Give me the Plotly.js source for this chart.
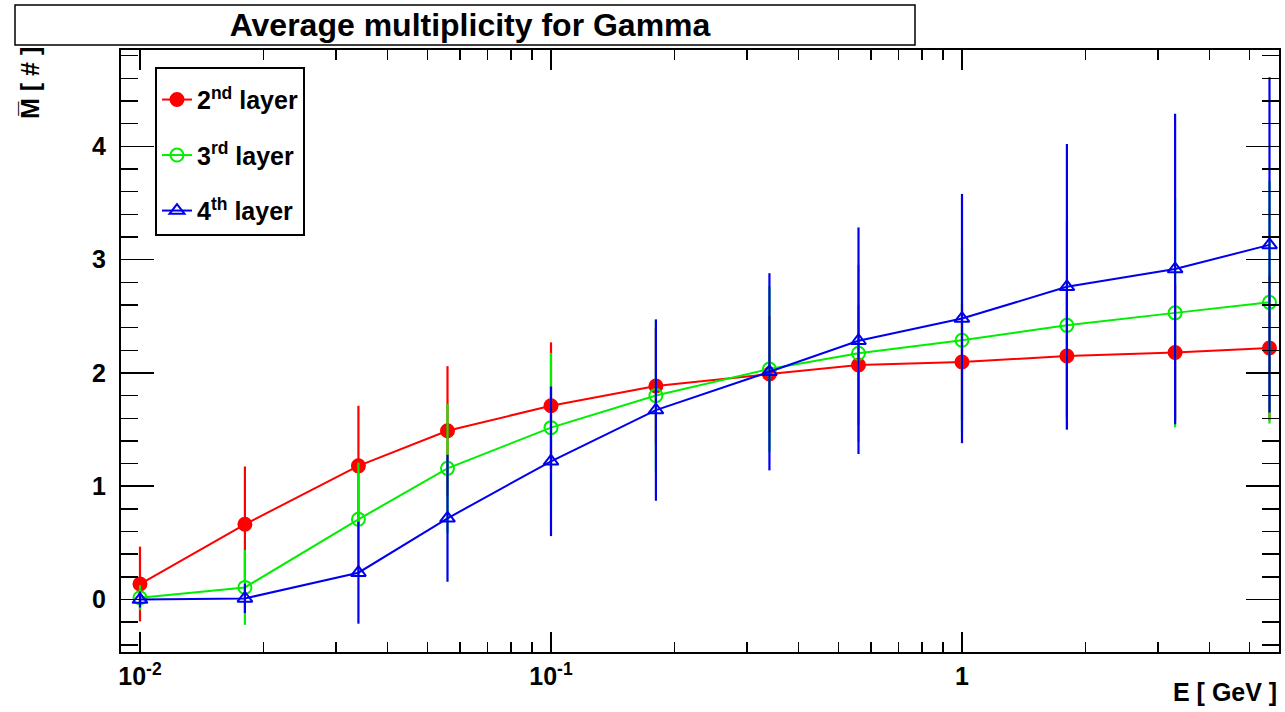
<!DOCTYPE html>
<html>
<head>
<meta charset="utf-8">
<script src="https://cdn.plot.ly/plotly-3.0.1.min.js"></script>
<style>html,body{margin:0;padding:0;background:#fff;}#chart{width:1285px;height:712px;}</style>
</head>
<body>
<div id="chart"></div>
<script>
// Energies [GeV]
const energy = [0.01, 0.018, 0.034, 0.056, 0.1, 0.18, 0.34, 0.56, 1.0, 1.8, 3.3, 5.6];

// 2nd layer
const layer2 = [0.137, 0.664, 1.18, 1.49, 1.71, 1.884, 1.99, 2.07, 2.096, 2.15, 2.18, 2.22];
const layer2Err = [0.33, 0.51, 0.53, 0.57, 0.56, 0.51, 0.51, 0.53, 0.51, 0.55, 0.60, 0.64];

// 3rd layer
const layer3 = [0.016, 0.107, 0.708, 1.158, 1.517, 1.80, 2.034, 2.173, 2.288, 2.42, 2.53, 2.623];
const layer3Err = [0.11, 0.33, 0.50, 0.57, 0.66, 0.67, 0.73, 0.78, 0.81, 0.92, 1.01, 1.07];

// 4th layer
const layer4 = [0.0, 0.01, 0.237, 0.717, 1.22, 1.672, 2.01, 2.284, 2.48, 2.76, 2.917, 3.13];
const layer4Err = [0.07, 0.13, 0.45, 0.56, 0.66, 0.80, 0.87, 1.0, 1.1, 1.26, 1.37, 1.48];

const seriesNames = ["2<sup>nd</sup> layer", "3<sup>rd</sup> layer", "4<sup>th</sup> layer"];
const xTickVals = [0.01, 0.1, 1];
const xTickText = ["10<sup>-2</sup>", "10<sup>-1</sup>", "1"];
const xMinorVals = [0.02,0.03,0.04,0.05,0.06,0.07,0.08,0.09,0.2,0.3,0.4,0.5,0.6,0.7,0.8,0.9,2,3,4,5];

const FONT = "Liberation Sans, Arial, Helvetica, sans-serif";

function trace(y, err, name, color, symbol, group) {
  return {
    x: energy, y: y, name: name, type: 'scatter', mode: 'lines+markers',
    legendgroup: group,
    line: {color: color, width: 2},
    marker: {color: color, symbol: symbol, size: 13, line: {color: color, width: 2}},
    error_y: {type: 'data', array: err, visible: true, color: color, thickness: 2.2, width: 0}
  };
}

const data = [
  trace(layer2, layer2Err, seriesNames[0], '#ff0000', 'circle', 'a'),
  trace(layer3, layer3Err, seriesNames[1], '#00ee00', 'circle-open', 'b'),
  trace(layer4, layer4Err, seriesNames[2], '#0000ee', 'triangle-up-open', 'c')
];

const layout = {
  width: 1285, height: 712,
  margin: {l: 121, r: 6, t: 50, b: 60},
  paper_bgcolor: '#fff', plot_bgcolor: '#fff',
  font: {family: FONT, color: '#000', size: 24, weight: 'bold'},
  showlegend: true,
  title: {
    text: 'Average multiplicity for Gamma',
    font: {family: FONT, size: 32, weight: 'bold', color: '#000'},
    x: 470/1285, xanchor: 'center', xref: 'container',
    y: 1 - 25/712, yanchor: 'middle', yref: 'container'
  },
  xaxis: {
    type: 'log',
    range: [-2.0462, 0.7713],
    showline: true, linecolor: '#000', linewidth: 2, mirror: 'ticks',
    ticks: 'inside', ticklen: 20, tickwidth: 1.5, tickcolor: '#000',
    tickvals: xTickVals, ticktext: xTickText,
    tickfont: {family: FONT, size: 25, weight: 'bold'},
    ticklabelstandoff: 1,
    showgrid: false, zeroline: false,
    minor: {tickvals: xMinorVals, ticks: 'inside', ticklen: 10, tickwidth: 1.5, tickcolor: '#000', showgrid: false}
  },
  yaxis: {
    range: [-0.463, 4.85],
    showline: true, linecolor: '#000', linewidth: 2, mirror: 'ticks',
    ticks: 'inside', ticklen: 33, tickwidth: 1.5, tickcolor: '#000',
    dtick: 1, tick0: 0,
    tickfont: {family: FONT, size: 25, weight: 'bold'},
    ticklabelstandoff: 8,
    showgrid: false, zeroline: false,
    minor: {dtick: 0.2, ticks: 'inside', ticklen: 17, tickwidth: 1.5, tickcolor: '#000', showgrid: false}
  },
  legend: {
    x: (155-121)/1158, y: (652-67)/602, xanchor: 'left', yanchor: 'top',
    bgcolor: '#fff', bordercolor: '#000', borderwidth: 2,
    font: {family: FONT, size: 25, weight: 'bold', color: '#000'},
    title: {text: '\u00a0', font: {size: 6}},
    traceorder: 'grouped', tracegroupgap: 20
  },
  shapes: [{
    type: 'rect', xref: 'paper', yref: 'paper',
    x0: (15-121)/1158, x1: (915-121)/1158,
    y0: (652-45)/602, y1: (652-5)/602,
    line: {color: '#000', width: 1.5}, fillcolor: 'rgba(0,0,0,0)'
  }],
  annotations: [
    {
      text: 'M\u0305 [ # ]', textangle: -90, showarrow: false,
      xref: 'paper', yref: 'paper',
      x: (30-121)/1158, y: (652-83)/602, xanchor: 'center', yanchor: 'middle',
      font: {family: FONT, size: 25, weight: 'bold', color: '#000'}
    },
    {
      text: 'E [ GeV ]', showarrow: false,
      xref: 'paper', yref: 'paper',
      x: 1, y: (652-692)/602, xanchor: 'right', yanchor: 'middle',
      font: {family: FONT, size: 25, weight: 'bold', color: '#000'}
    }
  ]
};

Plotly.newPlot('chart', data, layout, {displayModeBar: false, staticPlot: true});
</script>
</body>
</html>
